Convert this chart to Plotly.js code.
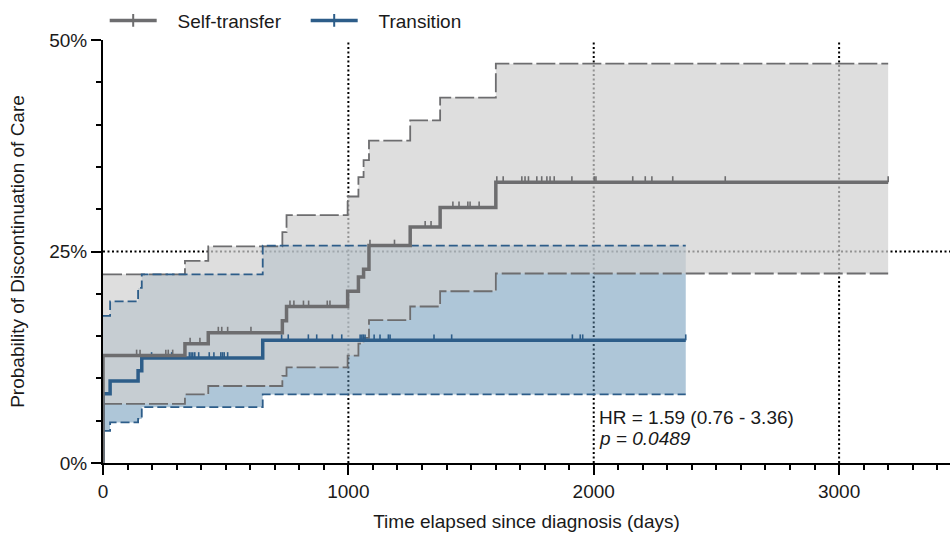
<!DOCTYPE html>
<html>
<head>
<meta charset="utf-8">
<script src="https://cdn.plot.ly/plotly-3.0.1.min.js"></script>
<style>html,body{margin:0;padding:0;background:#fff;}#chart{width:952px;height:534px;}</style>
</head>
<body>
<div id="chart"></div>
<script>
// ---- Data (cumulative probability of discontinuation, %) ----
const seriesNames = ["Self-transfer", "Transition"];

// Self-transfer: KM step estimate
const stTimes = [0, 0, 334, 429, 731, 748, 997, 1041, 1062, 1084, 1252, 1374, 1601, 3200];
const stEst   = [0, 12.7, 14.1, 15.4, 16.8, 18.5, 20.3, 22.0, 22.9, 25.7, 27.9, 30.2, 33.2, 33.2];
// Self-transfer: 95% CI
const stCiTimes = [0, 334, 429, 731, 748, 997, 1041, 1062, 1084, 1252, 1374, 1601, 3200];
const stUpper   = [22.3, 23.9, 25.6, 27.3, 29.3, 31.5, 33.8, 35.8, 38.1, 40.5, 43.2, 47.2, 47.2];
const stLower   = [7.0, 8.1, 9.1, 10.3, 11.3, 12.7, 14.1, 14.8, 16.9, 18.5, 20.3, 22.4, 22.4];
// Self-transfer: censored times
const stCensor = [137, 151, 256, 266, 284, 355, 395, 470, 484, 508, 603, 762, 778, 817, 838, 914, 925,
  1088, 1188, 1313, 1337, 1426, 1451, 1487, 1496, 1533, 1605, 1631, 1707, 1720, 1734, 1768, 1788,
  1809, 1822, 1839, 1911, 2002, 2009, 2159, 2210, 2237, 2322, 2536, 3200];

// Transition: KM step estimate
const trTimes = [0, 0, 29, 143, 158, 651, 2375];
const trEst   = [0, 8.2, 9.7, 10.9, 12.4, 14.5, 14.5];
// Transition: 95% CI
const trCiTimes = [0, 29, 143, 158, 651, 2375];
const trUpper   = [17.4, 19.1, 20.7, 22.3, 25.7, 25.7];
const trLower   = [3.8, 4.8, 5.2, 6.6, 8.1, 8.1];
// Transition: censored times
const trCensor = [198, 280, 352, 359, 366, 374, 390, 433, 452, 480, 487, 494, 508, 728, 755, 837, 871,
  935, 973, 1048, 1055, 1061, 1068, 1105, 1129, 1163, 1170, 1349, 1421, 1913, 1945, 1955, 2375];

// Reference lines and ticks
const refX = [1000, 2000, 3000];
const refY = 25;
const xTickVals = [0, 1000, 2000, 3000];
const yTickVals = [0, 25, 50];
const yTickText = ["0%", "25%", "50%"];
const hrText = "HR = 1.59 (0.76 - 3.36)";
const pText = "p = 0.0489";

// ---- Styles ----
const greyLine = "#6d6d6f";
const blueLine = "#2d5d89";
const greyFill = "rgba(208,208,208,0.7)";
const blueFill = "rgba(94,142,178,0.5)";
const FONT = "Arial, 'Liberation Sans', Helvetica, sans-serif";
const TICK_H = 0.7; // censor tick height (in % units)
const NB = "\u00a0\u00a0\u00a0";

function stepAt(times, vals, t) {
  let v = vals[0];
  for (let i = 0; i < times.length; i++) if (times[i] <= t) v = vals[i];
  return v;
}
function censorSegments(cens, times, vals) {
  const x = [], y = [];
  cens.forEach(t => {
    const v = stepAt(times, vals, t);
    x.push(t, t, null);
    y.push(v, v + TICK_H, null);
  });
  return {x, y};
}

const base = {type: "scatter", hoverinfo: "skip", showlegend: false};
const traces = [];
// legend entries (no data)
[[seriesNames[0], greyLine], [seriesNames[1], blueLine]].forEach(([name, c]) =>
  traces.push({type: "scatter", x: [null], y: [null], name: NB + name, mode: "lines+markers", showlegend: true,
    line: {color: c, width: 3.5}, marker: {symbol: "line-ns-open", size: 9, line: {color: c, width: 2}}}));
// fills: transition band first, self-transfer band on top
traces.push(Object.assign({}, base, {x: trCiTimes, y: trLower, mode: "lines", line: {width: 0, shape: "hv"}}));
traces.push(Object.assign({}, base, {x: trCiTimes, y: trUpper, mode: "lines", line: {width: 0, shape: "hv"}, fill: "tonexty", fillcolor: blueFill}));
traces.push(Object.assign({}, base, {x: stCiTimes, y: stLower, mode: "lines", line: {width: 0, shape: "hv"}}));
traces.push(Object.assign({}, base, {x: stCiTimes, y: stUpper, mode: "lines", line: {width: 0, shape: "hv"}, fill: "tonexty", fillcolor: greyFill}));
// dashed CI lines
[[stCiTimes, stUpper], [stCiTimes, stLower]].forEach(([x, y]) =>
  traces.push(Object.assign({}, base, {x, y, mode: "lines", line: {color: greyLine, width: 1.8, shape: "hv", dash: "19px,4px"}})));
[[trCiTimes, trUpper], [trCiTimes, trLower]].forEach(([x, y]) =>
  traces.push(Object.assign({}, base, {x, y, mode: "lines", line: {color: blueLine, width: 1.8, shape: "hv", dash: "9px,4px"}})));
// censor ticks
const trC = censorSegments(trCensor, trTimes, trEst);
traces.push(Object.assign({}, base, {x: trC.x, y: trC.y, mode: "lines", line: {color: blueLine, width: 1.6}}));
const stC = censorSegments(stCensor, stTimes, stEst);
traces.push(Object.assign({}, base, {x: stC.x, y: stC.y, mode: "lines", line: {color: greyLine, width: 1.6}}));
// main step lines
traces.push(Object.assign({}, base, {x: trTimes, y: trEst, mode: "lines", line: {color: blueLine, width: 3.5, shape: "hv"}}));
traces.push(Object.assign({}, base, {x: stTimes, y: stEst, mode: "lines", line: {color: greyLine, width: 3.5, shape: "hv"}}));

const shapes = [];
refX.forEach(v => shapes.push({type: "line", layer: "below", xref: "x", yref: "paper", x0: v, x1: v, y0: 0, y1: 1,
  line: {color: "#000", width: 2, dash: "2px,2.5px"}}));
shapes.push({type: "line", layer: "below", xref: "paper", yref: "y", x0: 0, x1: 1, y0: refY, y1: refY,
  line: {color: "#000", width: 2, dash: "2px,2.5px"}});

const layout = {
  width: 952, height: 534,
  margin: {l: 103, r: 2, t: 38, b: 71},
  paper_bgcolor: "#fff", plot_bgcolor: "rgba(0,0,0,0)",
  font: {family: FONT, size: 19, color: "#1a1a1a"},
  showlegend: true,
  legend: {orientation: "h", traceorder: "normal", x: 0.002, xanchor: "left", y: 1.046, yanchor: "middle",
    font: {family: FONT, size: 19, color: "#1a1a1a"}, itemwidth: 47, entrywidth: 139, entrywidthmode: "pixels",
    bgcolor: "rgba(0,0,0,0)"},
  xaxis: {range: [0, 3452], tickvals: xTickVals, ticks: "outside", ticklen: 10, tickwidth: 2, tickcolor: "#000",
    showline: true, linecolor: "#000", linewidth: 2, showgrid: false, zeroline: false, layer: "below traces",
    minor: {dtick: 100, tick0: 0, ticks: "outside", ticklen: 5, tickwidth: 2, tickcolor: "#000", showgrid: false},
    tickfont: {size: 19}, automargin: false,
    title: {text: "Time elapsed since diagnosis (days)", font: {size: 19}, standoff: 14}},
  yaxis: {range: [0, 50], tickvals: yTickVals, ticktext: yTickText, ticks: "outside", ticklen: 10, tickwidth: 2, tickcolor: "#000",
    showline: true, linecolor: "#000", linewidth: 2, showgrid: false, zeroline: false, layer: "below traces",
    minor: {dtick: 5, tick0: 0, ticks: "outside", ticklen: 5, tickwidth: 2, tickcolor: "#000", showgrid: false},
    tickfont: {size: 19}, automargin: false,
    title: {text: "Probability of Discontinuation of Care", font: {size: 19}, standoff: 20}},
  shapes,
  annotations: [
    {xref: "x", yref: "y", x: 2012, y: 5.35, text: hrText, showarrow: false, xanchor: "left", yanchor: "middle",
      font: {size: 19, color: "#1a1a1a"}},
    {xref: "x", yref: "y", x: 2012, y: 2.85, text: "<i>" + pText + "</i>", showarrow: false, xanchor: "left", yanchor: "middle",
      font: {size: 19, color: "#1a1a1a"}}
  ]
};

Plotly.newPlot("chart", traces, layout, {staticPlot: true, displayModeBar: false});
</script>
</body>
</html>
